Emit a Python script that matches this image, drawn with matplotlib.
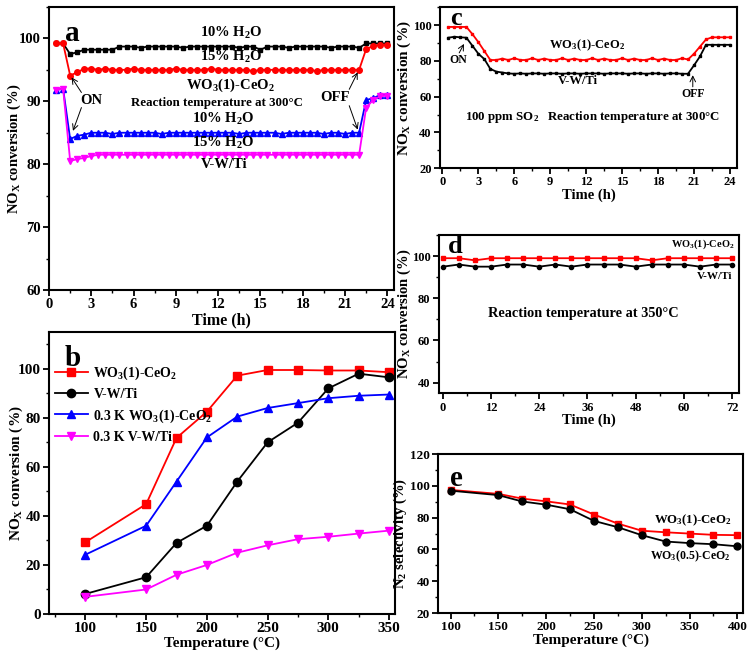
import numpy as np
import matplotlib
matplotlib.use("Agg")
from matplotlib import pyplot as plt
from matplotlib.ticker import MultipleLocator

plt.rcParams['font.family'] = ['Liberation Serif', 'DejaVu Serif']
plt.rcParams['font.weight'] = 'bold'
plt.rcParams['mathtext.fontset'] = 'custom'
plt.rcParams['mathtext.rm'] = 'Liberation Serif:bold'
plt.rcParams['mathtext.it'] = 'Liberation Serif:bold'
plt.rcParams['mathtext.bf'] = 'Liberation Serif:bold'
plt.rcParams['axes.linewidth'] = 1.5

# ---- panel a : water resistance at 300 C
t_a = np.arange(0.5, 24.01, 0.5)
a_wo3_10 = [99.2, 99.2, 97.5, 97.8, 98.2, 98.2, 98.2, 98.2, 98.2, 98.7,
            98.7, 98.7, 98.5, 98.7, 98.7, 98.7, 98.7, 98.7, 98.5, 98.7,
            98.7, 98.7, 98.7, 98.7, 98.7, 98.7, 98.5, 98.7, 98.7, 98.2,
            98.7, 98.7, 98.7, 98.5, 98.7, 98.7, 98.7, 98.7, 98.7, 98.5,
            98.7, 98.7, 98.7, 98.5, 99.2, 99.2, 99.2, 99.2]
a_wo3_15 = [99.2, 99.2, 94.1, 94.6, 95.2, 95.2, 95.0, 95.2, 95.0, 95.0,
            95.0, 95.2, 95.0, 95.0, 95.0, 95.0, 95.0, 95.2, 95.0, 95.0,
            95.0, 95.0, 95.2, 95.0, 95.0, 95.0, 95.0, 95.0, 94.8, 95.0,
            95.0, 95.0, 95.0, 95.0, 95.0, 95.0, 95.0, 94.8, 95.0, 95.0,
            95.0, 95.0, 95.0, 95.0, 98.3, 98.8, 99.0, 99.0]
a_vwti_10 = [91.8, 92.0, 84.0, 84.5, 84.7, 85.0, 85.0, 85.0, 84.8, 85.0,
             85.0, 85.0, 85.0, 85.0, 85.0, 84.8, 85.0, 85.0, 85.0, 85.0,
             85.0, 85.0, 85.0, 85.0, 85.0, 85.0, 84.8, 85.0, 85.0, 85.0,
             85.0, 85.0, 84.8, 85.0, 85.0, 85.0, 85.0, 85.0, 84.8, 85.0,
             85.0, 84.8, 85.0, 85.0, 90.2, 90.5, 91.0, 91.0]
a_vwti_15 = [91.8, 92.0, 80.5, 80.8, 81.0, 81.3, 81.5, 81.5, 81.5, 81.5,
             81.5, 81.5, 81.5, 81.5, 81.5, 81.5, 81.5, 81.5, 81.5, 81.5,
             81.5, 81.5, 81.5, 81.5, 81.5, 81.5, 81.5, 81.5, 81.5, 81.5,
             81.5, 81.5, 81.5, 81.5, 81.5, 81.5, 81.5, 81.5, 81.5, 81.5,
             81.5, 81.5, 81.5, 81.5, 89.0, 90.2, 90.8, 90.9]

# ---- panel b : temperature dependence
temp_b = [100, 150, 175, 200, 225, 250, 275, 300, 325, 350]
b_wo3 = [29.3, 44.8, 71.8, 82.5, 97.2, 99.5, 99.5, 99.3, 99.3, 98.6]
b_vwti = [8.2, 15.0, 29.0, 36.0, 54.0, 70.0, 78.0, 92.0, 98.0, 96.5]
b_k_wo3 = [24.2, 36.0, 54.0, 72.0, 80.5, 84.0, 86.0, 88.0, 89.0, 89.5]
b_k_vwti = [7.0, 10.0, 16.0, 20.0, 25.0, 28.0, 30.5, 31.5, 32.8, 34.0]

# ---- panel c : SO2 resistance at 300 C
t_c = np.arange(0.5, 24.01, 0.5)
c_wo3 = [99.0, 99.0, 99.0, 99.0, 95.0, 90.5, 85.5, 80.5, 80.5, 81.3,
         80.5, 81.5, 80.5, 80.5, 81.5, 80.5, 81.3, 80.5, 80.5, 81.5,
         80.5, 81.3, 80.5, 80.5, 81.5, 80.5, 81.3, 80.5, 80.5, 81.5,
         80.5, 81.3, 80.5, 80.5, 81.5, 80.5, 81.3, 80.5, 80.5, 81.5,
         80.8, 84.0, 88.0, 92.0, 93.2, 93.2, 93.2, 93.2]
c_vwti = [93.0, 93.5, 93.2, 93.0, 88.5, 84.0, 81.0, 75.5, 74.0, 73.5,
          73.0, 72.8, 73.0, 72.8, 73.0, 73.0, 72.8, 73.0, 73.0, 72.8,
          73.0, 73.0, 72.8, 73.0, 73.0, 73.0, 72.8, 73.0, 73.0, 73.0,
          72.8, 73.0, 73.0, 72.8, 73.0, 73.0, 72.8, 73.0, 73.0, 72.8,
          72.8, 77.5, 82.5, 89.0, 89.0, 89.0, 89.0, 89.0]

# ---- panel d : stability at 350 C
t_d = [0, 4, 8, 12, 16, 20, 24, 28, 32, 36, 40, 44, 48, 52, 56, 60, 64, 68, 72]
d_wo3 = [99, 99, 98, 99, 99, 99, 99, 99, 99, 99, 99, 99, 99, 98, 99, 99, 99, 99, 99]
d_vwti = [95, 96, 95, 95, 96, 96, 95, 96, 95, 96, 96, 96, 95, 96, 96, 96, 95, 96, 96]

# ---- panel e : N2 selectivity
temp_e = [100, 150, 175, 200, 225, 250, 275, 300, 325, 350, 375, 400]
e_wo3_1 = [97.5, 95.0, 92.0, 90.3, 88.3, 82.0, 76.3, 71.8, 70.8, 70.0, 69.2, 69.0]
e_wo3_05 = [97.0, 94.2, 90.2, 88.2, 85.3, 78.0, 74.0, 69.0, 65.0, 64.0, 63.3, 62.0]

nox_label = r'NO$_\mathregular{X}$ conversion (%)'


def style(ax, xmaj, xmin, ymaj, ymin, fs=10):
    ax.xaxis.set_major_locator(MultipleLocator(xmaj))
    ax.xaxis.set_minor_locator(MultipleLocator(xmin))
    ax.yaxis.set_major_locator(MultipleLocator(ymaj))
    ax.yaxis.set_minor_locator(MultipleLocator(ymin))
    ax.tick_params(which='major', direction='out', length=4, width=1.3, labelsize=fs, pad=2)
    ax.tick_params(which='minor', direction='out', length=2.5, width=1.0)
    for lab in ax.get_xticklabels() + ax.get_yticklabels():
        lab.set_fontweight('bold')


fig = plt.figure(figsize=(7.54, 6.62), dpi=100)
arr = dict(arrowstyle='->', color='black', lw=0.7, shrinkA=0, shrinkB=0)

# panel a
ax = fig.add_axes([0.065, 0.562, 0.458, 0.4275])
ax.plot(t_a, a_wo3_10, '-s', color='black', ms=3.5, lw=1.3)
ax.plot(t_a, a_wo3_15, '-o', color='red', ms=4, lw=1.3)
ax.plot(t_a, a_vwti_10, '-^', color='blue', ms=4, lw=1.3)
ax.plot(t_a, a_vwti_15, '-v', color='magenta', ms=4, lw=1.3)
ax.set_xlim(0, 24.5)
ax.set_ylim(60, 105)
style(ax, 3, 1.5, 10, 5, fs=10.5)
ax.set_xlabel('Time (h)', fontsize=11.5, fontweight='bold', labelpad=1)
ax.set_ylabel(nox_label, fontsize=10.5, fontweight='bold')
ax.yaxis.set_label_coords(-0.075, 0.5)
ax.text(0.045, 0.955, 'a', transform=ax.transAxes, fontsize=21, fontweight='bold', va='top')
kw = dict(ha='center', va='center', fontsize=10.5, fontweight='bold')
ax.text(12.9, 100.8, r'10% H$_2$O', **kw)
ax.text(12.9, 97.0, r'15% H$_2$O', **kw)
ax.text(12.9, 92.5, r'WO$_3$(1)-CeO$_2$', **kw)
ax.text(11.9, 89.8, u'Reaction temperature at 300°C', ha='center', va='center', fontsize=9.3, fontweight='bold')
ax.text(12.4, 87.2, r'10% H$_2$O', **kw)
ax.text(12.4, 83.3, r'15% H$_2$O', **kw)
ax.text(12.4, 80.0, 'V-W/Ti', **kw)
ax.text(3.0, 90.2, 'ON', **kw)
ax.text(20.3, 90.6, 'OFF', **kw)
ax.annotate('', xy=(1.6, 93.8), xytext=(2.3, 91.4), arrowprops=arr)
ax.annotate('', xy=(1.7, 85.3), xytext=(2.3, 89.0), arrowprops=arr)
ax.annotate('', xy=(21.9, 94.6), xytext=(21.3, 91.9), arrowprops=arr)
ax.annotate('', xy=(21.9, 85.5), xytext=(21.3, 89.3), arrowprops=arr)

# panel b
ax = fig.add_axes([0.065, 0.0725, 0.459, 0.426])
ax.plot(temp_b, b_wo3, '-s', color='red', ms=6, lw=1.3, label=r'WO$_3$(1)-CeO$_2$')
ax.plot(temp_b, b_vwti, '-o', color='black', ms=6, lw=1.3, label='V-W/Ti')
ax.plot(temp_b, b_k_wo3, '-^', color='blue', ms=6, lw=1.3, label=r'0.3 K WO$_3$(1)-CeO$_2$')
ax.plot(temp_b, b_k_vwti, '-v', color='magenta', ms=6, lw=1.3, label='0.3 K V-W/Ti')
ax.set_xlim(70, 355)
ax.set_ylim(0, 115)
style(ax, 50, 25, 20, 10, fs=11)
ax.set_xlabel(u'Temperature (°C)', fontsize=11, fontweight='bold', labelpad=1)
ax.set_ylabel(nox_label, fontsize=11, fontweight='bold')
ax.yaxis.set_label_coords(-0.07, 0.5)
ax.text(0.045, 0.955, 'b', transform=ax.transAxes, fontsize=21, fontweight='bold', va='top')
ax.legend(loc='upper left', bbox_to_anchor=(0.0, 0.905), frameon=False,
          prop=dict(size=10, weight='bold'), handlelength=2.4, handletextpad=0.4,
          labelspacing=0.45, borderaxespad=0)

# panel c
ax = fig.add_axes([0.5836, 0.746, 0.394, 0.243])
ax.plot(t_c, c_wo3, '-s', color='red', ms=2, lw=1.3)
ax.plot(t_c, c_vwti, '-s', color='black', ms=2, lw=1.3)
ax.set_xlim(-0.2, 24.6)
ax.set_ylim(20, 110)
style(ax, 3, 1.5, 20, 10, fs=9)
ax.set_xlabel('Time (h)', fontsize=10.5, fontweight='bold', labelpad=0)
ax.set_ylabel(nox_label, fontsize=11, fontweight='bold')
ax.yaxis.set_label_coords(-0.09, 0.5)
ax.text(0.035, 1.0, 'c', transform=ax.transAxes, fontsize=19, fontweight='bold', va='top')
ax.text(12.1, 88.7, r'WO$_3$(1)-CeO$_2$', ha='center', va='center', fontsize=9, fontweight='bold')
ax.text(11.3, 68.5, 'V-W/Ti', ha='center', va='center', fontsize=9, fontweight='bold')
ax.text(1.3, 80.6, 'ON', ha='center', va='center', fontsize=8.5, fontweight='bold')
ax.text(20.9, 61.5, 'OFF', ha='center', va='center', fontsize=8.5, fontweight='bold')
ax.text(12.5, 48.7, r'100 ppm SO$_2$   Reaction temperature at 300°C',
        ha='center', va='center', fontsize=9.3, fontweight='bold')
ax.annotate('', xy=(1.8, 89.5), xytext=(1.4, 84.5), arrowprops=arr)
ax.annotate('', xy=(20.9, 72.0), xytext=(20.9, 65.5), arrowprops=arr)

# panel d
ax = fig.add_axes([0.582, 0.406, 0.398, 0.239])
ax.plot(t_d, d_wo3, '-s', color='red', ms=3, lw=1.3)
ax.plot(t_d, d_vwti, '-o', color='black', ms=3, lw=1.3)
ax.set_xlim(-1, 73.7)
ax.set_ylim(35, 110)
style(ax, 12, 6, 20, 10, fs=9)
ax.set_xlabel('Time (h)', fontsize=10.5, fontweight='bold', labelpad=0)
ax.set_ylabel(nox_label, fontsize=10.5, fontweight='bold')
ax.yaxis.set_label_coords(-0.085, 0.5)
ax.text(0.03, 1.0, 'd', transform=ax.transAxes, fontsize=19, fontweight='bold', va='top')
ax.text(72.5, 105.5, r'WO$_3$(1)-CeO$_2$', ha='right', va='center', fontsize=7.5, fontweight='bold')
ax.text(72.0, 90.5, 'V-W/Ti', ha='right', va='center', fontsize=8, fontweight='bold')
ax.text(35, 73, u'Reaction temperature at 350°C', ha='center', va='center', fontsize=10.3, fontweight='bold')

# panel e
ax = fig.add_axes([0.581, 0.074, 0.4045, 0.240])
ax.plot(temp_e, e_wo3_1, '-s', color='red', ms=5, lw=1.3)
ax.plot(temp_e, e_wo3_05, '-o', color='black', ms=5, lw=1.3)
ax.set_xlim(87, 406)
ax.set_ylim(20, 120)
style(ax, 50, 25, 20, 10, fs=9.5)
ax.set_xlabel(u'Temperature (°C)', fontsize=11, fontweight='bold', labelpad=0)
ax.set_ylabel(r'N$_2$ selectivity (%)', fontsize=10.5, fontweight='bold')
ax.yaxis.set_label_coords(-0.095, 0.5)
ax.text(0.04, 0.93, 'e', transform=ax.transAxes, fontsize=21, fontweight='bold', va='top')
ax.text(353, 78.5, r'WO$_3$(1)-CeO$_2$', ha='center', va='center', fontsize=9.2, fontweight='bold')
ax.text(351, 56, r'WO$_3$(0.5)-CeO$_2$', ha='center', va='center', fontsize=8.5, fontweight='bold')

plt.savefig("out.png", dpi=100)
